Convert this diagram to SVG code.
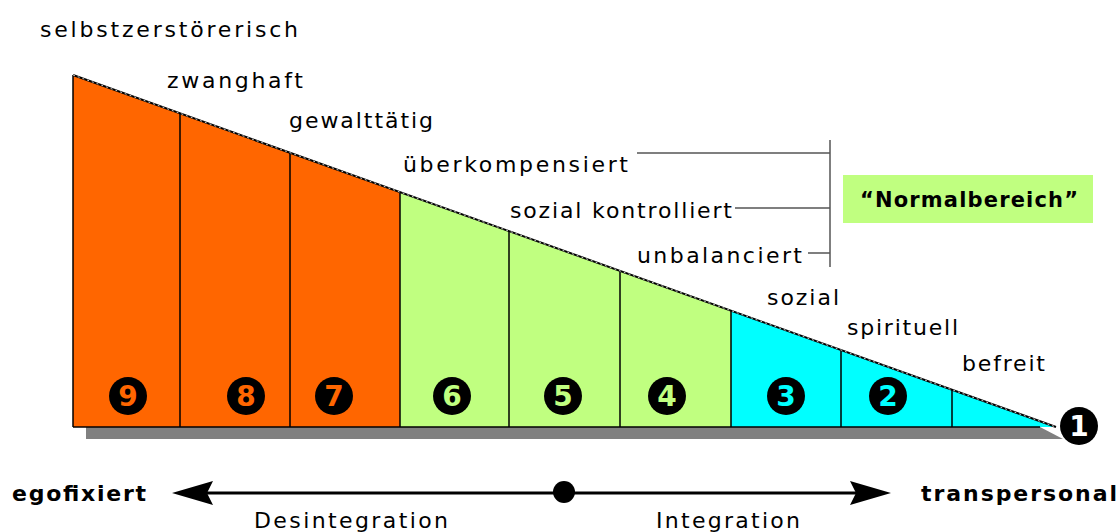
<svg xmlns="http://www.w3.org/2000/svg" width="1118" height="532" viewBox="0 0 1118 532">
<style>
.lbl{font-family:"DejaVu Sans","Liberation Sans",sans-serif;font-size:22px;fill:#000}
.bold{font-family:"DejaVu Sans","Liberation Sans",sans-serif;font-weight:bold;fill:#000}
.num{font-family:"DejaVu Sans","Liberation Sans",sans-serif;font-weight:bold;font-size:28px;text-anchor:middle}
.div{stroke:#000;stroke-width:1.5}
.br{stroke:#555;stroke-width:1.5;fill:none}
</style>
<defs>
<circle id="dot" r="19" fill="#000"/>
</defs>
<rect width="1118" height="532" fill="#fff"/>
<g id="shadow">
<polygon points="86,427 1040,427 1063,439 86,439" fill="#808080"/>
</g>
<g id="zone-orange">
<polygon points="73,75 400,192 400,427 73,427" fill="#ff6600"/>
</g>
<g id="zone-green">
<polygon points="400,192 731,310 731,427 400,427" fill="#c0ff80"/>
</g>
<g id="zone-cyan">
<polygon points="731,310 1052,426 1052,427 731,427" fill="#00ffff"/>
</g>
<g id="dividers">
<line class="div" x1="73" y1="75" x2="73" y2="427"/>
<line class="div" x1="180" y1="113" x2="180" y2="427"/>
<line class="div" x1="290" y1="153" x2="290" y2="427"/>
<line class="div" x1="400" y1="192" x2="400" y2="427"/>
<line class="div" x1="509" y1="231" x2="509" y2="427"/>
<line class="div" x1="620" y1="271" x2="620" y2="427"/>
<line class="div" x1="731" y1="310" x2="731" y2="427"/>
<line class="div" x1="841" y1="350" x2="841" y2="427"/>
<line class="div" x1="952" y1="390" x2="952" y2="427"/>
<line class="div" x1="73" y1="427" x2="1040" y2="427"/>
<line x1="73" y1="75" x2="1056" y2="427" stroke="#000" stroke-width="2"/>
<line x1="73" y1="75" x2="1056" y2="427" stroke="#fff" stroke-width="0.8" stroke-dasharray="2 3"/>
</g>
<g id="n9"><use href="#dot" x="128" y="396"/><text class="num" x="128" y="406" fill="#ff6600">9</text></g>
<g id="n8"><use href="#dot" x="246" y="396"/><text class="num" x="246" y="406" fill="#ff6600">8</text></g>
<g id="n7"><use href="#dot" x="334" y="396"/><text class="num" x="334" y="406" fill="#ff6600">7</text></g>
<g id="n6"><use href="#dot" x="452" y="396"/><text class="num" x="452" y="406" fill="#c0ff80">6</text></g>
<g id="n5"><use href="#dot" x="563" y="396"/><text class="num" x="563" y="406" fill="#c0ff80">5</text></g>
<g id="n4"><use href="#dot" x="667" y="396"/><text class="num" x="667" y="406" fill="#c0ff80">4</text></g>
<g id="n3"><use href="#dot" x="786" y="396"/><text class="num" x="786" y="406" fill="#00ffff">3</text></g>
<g id="n2"><use href="#dot" x="888" y="396"/><text class="num" x="888" y="406" fill="#00ffff">2</text></g>
<g id="n1"><use href="#dot" x="1079" y="426"/><text class="num" x="1079" y="436" fill="#fff">1</text></g>
<g id="labels">
<text class="lbl" x="40" y="37" textLength="258" lengthAdjust="spacing">selbstzerstörerisch</text>
<text class="lbl" x="167" y="88" textLength="136" lengthAdjust="spacing">zwanghaft</text>
<text class="lbl" x="289" y="128" textLength="144" lengthAdjust="spacing">gewalttätig</text>
<text class="lbl" x="403" y="172" textLength="225" lengthAdjust="spacing">überkompensiert</text>
<text class="lbl" x="510" y="218" textLength="222" lengthAdjust="spacing">sozial kontrolliert</text>
<text class="lbl" x="637" y="263" textLength="165" lengthAdjust="spacing">unbalanciert</text>
<text class="lbl" x="767" y="305" textLength="72" lengthAdjust="spacing">sozial</text>
<text class="lbl" x="847" y="335" textLength="111" lengthAdjust="spacing">spirituell</text>
<text class="lbl" x="962" y="371" textLength="83" lengthAdjust="spacing">befreit</text>
</g>
<g id="bracket">
<line class="br" x1="830" y1="140" x2="830" y2="267"/>
<line class="br" x1="637" y1="153" x2="830" y2="153"/>
<line class="br" x1="735" y1="208" x2="830" y2="208"/>
<line class="br" x1="808" y1="253" x2="830" y2="253"/>
</g>
<g id="normalbereich">
<rect x="843" y="175" width="250" height="48" fill="#c0ff80"/>
<text class="bold" x="860" y="207" font-size="21" textLength="218" lengthAdjust="spacing">“Normalbereich”</text>
</g>
<g id="connectors">
<line x1="205" y1="493" x2="860" y2="493" stroke="#000" stroke-width="3"/>
<polygon points="172,493 213,481 207,493 213,505" fill="#000"/>
<polygon points="891,493 850,481 856,493 850,505" fill="#000"/>
<circle cx="564" cy="492" r="11" fill="#000"/>
</g>
<g id="axis-labels">
<text class="bold" x="12" y="501" font-size="22" textLength="134" lengthAdjust="spacing">egofixiert</text>
<text class="bold" x="921" y="501" font-size="22" textLength="196" lengthAdjust="spacing">transpersonal</text>
<text class="lbl" x="254" y="528" textLength="194" lengthAdjust="spacing">Desintegration</text>
<text class="lbl" x="656" y="528" textLength="144" lengthAdjust="spacing">Integration</text>
</g>
</svg>
